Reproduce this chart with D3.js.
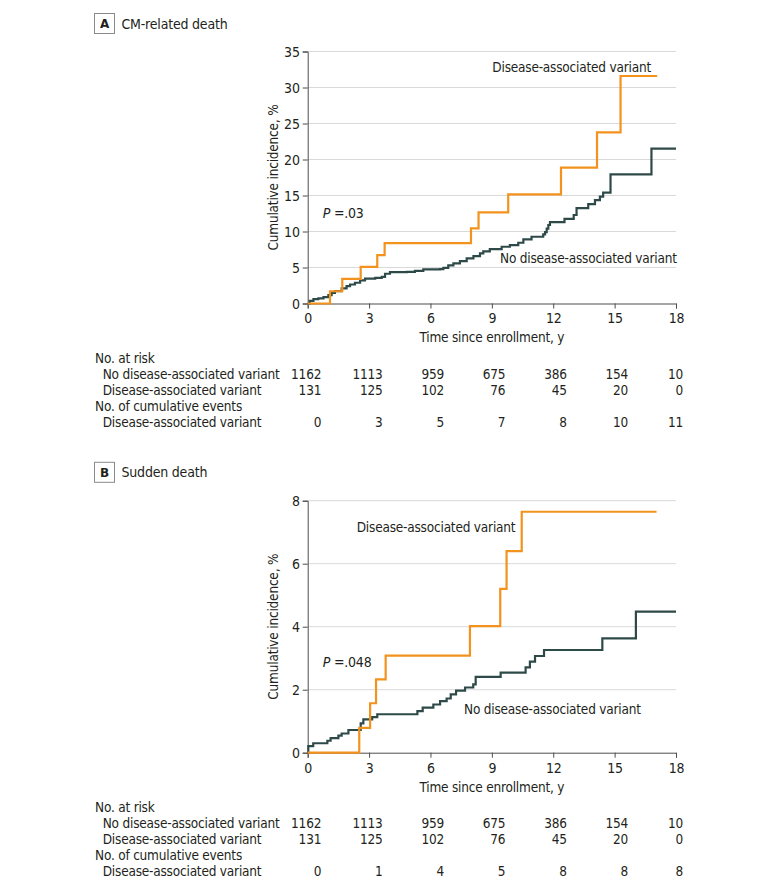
<!DOCTYPE html>
<html>
<head>
<meta charset="utf-8">
<script src="https://cdn.jsdelivr.net/npm/d3@7"></script>
<style>
  body { margin: 0; background: #fff; }
  text { font-family: "DejaVu Sans Condensed", "DejaVu Sans", sans-serif; fill: #231f20; letter-spacing: -0.2px; }
</style>
</head>
<body>
<div class="chart"></div>
<script>
// data
var timeTicks = [0, 3, 6, 9, 12, 15, 18];
var cmTicks = [0, 5, 10, 15, 20, 25, 30, 35];
var sdTicks = [0, 2, 4, 6, 8];

// [years, cumulative incidence %], step-after
var cmVariant = [[0,0],[1.09,1.7],[1.69,3.43],[2.59,5.1],[3.4,6.72],[3.76,8.39],[7.98,10.43],[8.35,12.66],
  [9.8,15.16],[12.38,18.87],[14.14,23.78],[15.29,31.6],[17.08,31.6]];
var cmNoVariant = [[0,0],[0.1,0.37],[0.28,0.6],[0.52,0.7],[0.77,0.88],[1.01,1.16],[1.17,1.48],[1.33,1.72],
  [1.66,2.09],[1.9,2.41],[2.07,2.64],[2.31,2.88],[2.56,3.2],[2.8,3.45],[3.3,3.57],[3.62,3.7],[3.78,4.13],
  [4.02,4.36],[4.84,4.4],[5.24,4.54],[5.65,4.73],[6.47,4.77],[6.63,4.96],[6.87,5.29],[7.12,5.56],[7.44,5.89],
  [7.77,6.26],[8.1,6.58],[8.42,6.96],[8.58,7.23],[8.9,7.55],[9.48,7.88],[9.88,8.1],[10.29,8.44],[10.54,8.9],
  [10.94,9.27],[11.51,9.6],[11.6,9.9],[11.68,10.4],[11.76,10.9],[11.84,11.3],[12.55,11.75],[13.0,12.29],
  [13.14,13.25],[13.71,13.81],[14.04,14.37],[14.28,14.83],[14.44,15.39],[14.8,17.94],[16.8,21.5],[18,21.5]];

var sdVariant = [[0,0],[2.52,0.79],[3.05,1.57],[3.34,2.33],[3.81,3.08],[7.93,4.02],[9.41,5.2],[9.72,6.4],
  [10.46,7.65],[17.05,7.65]];
var sdNoVariant = [[0,0],[0.03,0.21],[0.27,0.3],[0.96,0.38],[1.12,0.46],[1.5,0.54],[1.66,0.61],[1.99,0.72],
  [2.59,0.93],[2.72,1.06],[3.15,1.13],[3.4,1.22],[5.36,1.32],[5.62,1.43],[6.14,1.53],[6.47,1.64],[6.79,1.72],
  [6.99,1.85],[7.25,1.97],[7.69,2.07],[8.09,2.17],[8.21,2.41],[9.43,2.54],[10.65,2.71],[10.86,2.89],
  [11.11,3.07],[11.55,3.26],[14.4,3.63],[16.04,4.48],[18,4.48]];

var riskNoVariant = [1162, 1113, 959, 675, 386, 154, 10];
var riskVariant = [131, 125, 102, 76, 45, 20, 0];
var cmEvents = [0, 3, 5, 7, 8, 10, 11];
var sdEvents = [0, 1, 4, 5, 8, 8, 8];

var orange = "#f4921e";
var slate = "#2e4a48";
var fontSize = "13.5px";

var svg = d3.select(".chart")
  .append("svg")
  .attr("width", 780)
  .attr("height", 888);

var plotLeft = 307.7;
var plotRight = 676;
var plotHeight = 252;

function drawPanel(opts) {
  var top = opts.top;
  var bottom = top + plotHeight;

  var x = d3.scaleLinear().domain([0, 18]).range([plotLeft, plotRight]);
  var y = d3.scaleLinear().domain([0, opts.yMax]).range([bottom, top]);

  // panel label box + title
  var ly = opts.labelY;
  svg.append("rect")
    .attr("x", 94.5).attr("y", ly - 10)
    .attr("width", 20).attr("height", 20)
    .attr("fill", "none").attr("stroke", "#8a8a8a").attr("stroke-width", 1);
  svg.append("text")
    .attr("x", 104.5).attr("y", ly)
    .attr("dy", "0.36em")
    .attr("text-anchor", "middle")
    .style("font-family", "DejaVu Sans, sans-serif")
    .style("font-weight", "bold")
    .style("font-size", "12px")
    .text(opts.letter);
  svg.append("text")
    .attr("x", 121.5).attr("y", ly)
    .attr("dy", "0.36em")
    .style("font-size", "14px")
    .text(opts.title);

  // gridlines
  svg.append("g")
    .selectAll("line")
    .data(opts.yTicks.filter(d => d > 0))
    .enter()
    .append("line")
    .attr("x1", plotLeft).attr("x2", plotRight)
    .attr("y1", d => y(d)).attr("y2", d => y(d))
    .attr("stroke", "#d9d9d9").attr("stroke-width", 1);

  // axes
  var leftAxis = d3.axisLeft(y).tickValues(opts.yTicks).tickSize(5).tickPadding(3).tickFormat(d3.format("d"));
  var bottomAxis = d3.axisBottom(x).tickValues(timeTicks).tickSize(5).tickPadding(3).tickFormat(d3.format("d"));

  var gy = svg.append("g")
    .attr("transform", `translate(${plotLeft}, 0)`)
    .call(leftAxis);
  var gx = svg.append("g")
    .attr("transform", `translate(0, ${bottom})`)
    .call(bottomAxis);
  [gx, gy].forEach(function(g) {
    g.attr("font-family", null).attr("font-size", null);
    g.select(".domain").attr("stroke", "#4d4d4d");
    g.selectAll(".tick line").attr("stroke", "#4d4d4d");
    g.selectAll(".tick text")
      .style("font-size", "14px")
      .attr("fill", "#231f20");
  });
  gy.selectAll(".tick text").attr("dy", "0.36em");
  gx.selectAll(".tick text").attr("dy", "0.85em");

  // axis titles
  svg.append("text")
    .attr("transform", `translate(273.5, ${(top + bottom) / 2}) rotate(-90)`)
    .attr("dy", "0.36em")
    .attr("text-anchor", "middle")
    .style("font-size", fontSize)
    .text("Cumulative incidence, %");
  svg.append("text")
    .attr("x", (plotLeft + plotRight) / 2)
    .attr("y", bottom + 34)
    .attr("dy", "0.36em")
    .attr("text-anchor", "middle")
    .style("font-size", fontSize)
    .text("Time since enrollment, y");

  // curves
  var line = d3.line()
    .x(d => x(d[0]))
    .y(d => y(d[1]))
    .curve(d3.curveStepAfter);

  svg.append("path")
    .datum(opts.noVariant)
    .attr("d", line)
    .attr("fill", "none")
    .attr("stroke", slate)
    .attr("stroke-width", 2.2);
  svg.append("path")
    .datum(opts.variant)
    .attr("d", line)
    .attr("fill", "none")
    .attr("stroke", orange)
    .attr("stroke-width", 2.2);

  // curve labels
  svg.append("text")
    .attr("x", opts.varLabel[0]).attr("y", opts.varLabel[1])
    .attr("dy", "0.36em")
    .style("font-size", fontSize)
    .text("Disease-associated variant");
  svg.append("text")
    .attr("x", opts.noVarLabel[0]).attr("y", opts.noVarLabel[1])
    .attr("dy", "0.36em")
    .style("font-size", fontSize)
    .text("No disease-associated variant");

  // p value
  var p = svg.append("text")
    .attr("x", 322.7).attr("y", opts.pY)
    .attr("dy", "0.36em")
    .style("font-size", "14px");
  p.append("tspan").style("font-style", "italic").text("P");
  p.append("tspan").text(" =" + opts.p);

  // risk table
  var rows = [
    { label: "No. at risk", indent: false, values: null },
    { label: "No disease-associated variant", indent: true, values: riskNoVariant },
    { label: "Disease-associated variant", indent: true, values: riskVariant },
    { label: "No. of cumulative events", indent: false, values: null },
    { label: "Disease-associated variant", indent: true, values: opts.events }
  ];
  rows.forEach(function(row, i) {
    var ry = bottom + 54.4 + i * 16;
    svg.append("text")
      .attr("x", row.indent ? 102.7 : 95)
      .attr("y", ry)
      .attr("dy", "0.36em")
      .style("font-size", fontSize)
      .text(row.label);
    if (row.values) {
      svg.append("g")
        .selectAll("text")
        .data(row.values)
        .enter()
        .append("text")
        .attr("x", (d, j) => Math.min(x(timeTicks[j]) + 13.5, 683))
        .attr("y", ry)
        .attr("dy", "0.36em")
        .attr("text-anchor", "end")
        .style("font-size", fontSize)
        .text(d => d);
    }
  });
}

drawPanel({
  letter: "A", title: "CM-related death", labelY: 23.5,
  top: 51.5, yMax: 35, yTicks: cmTicks,
  variant: cmVariant, noVariant: cmNoVariant, events: cmEvents,
  p: ".03", pY: 213.3,
  varLabel: [492.3, 66.7], noVarLabel: [500, 258.3]
});

drawPanel({
  letter: "B", title: "Sudden death", labelY: 472.3,
  top: 500.7, yMax: 8, yTicks: sdTicks,
  variant: sdVariant, noVariant: sdNoVariant, events: sdEvents,
  p: ".048", pY: 662.3,
  varLabel: [356.7, 527.3], noVarLabel: [464, 709.3]
});
</script>
</body>
</html>
